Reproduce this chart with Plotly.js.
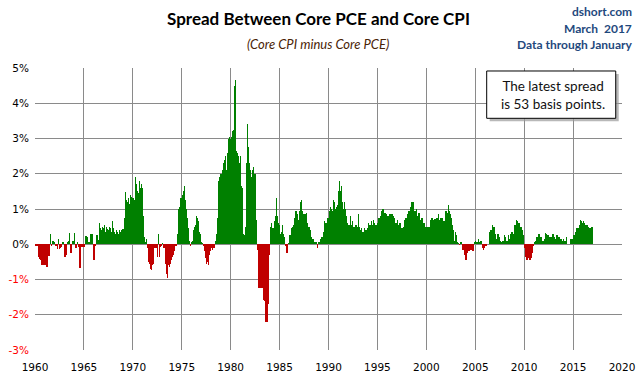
<!DOCTYPE html>
<html><head><meta charset="utf-8">
<script src="https://cdn.plot.ly/plotly-3.0.1.min.js"></script>
<style>html,body{margin:0;padding:0;background:#fff}#chart{width:638px;height:380px}</style>
</head><body><div id="chart"></div>
<script>
// Monthly spread (Core CPI minus Core PCE), %, Jan 1960 .. Jan 2017
const startYear = 1960;
const spread1960s = [
 -0.05,-0.05,0.2,-0.05,-0.35,-0.42,-0.45,-0.59,-0.59,-0.6,-0.59,-0.6,
 -0.59,-0.64,-0.64,-0.64,-0.33,-0.33,-0.05,0.3,-0.05,0.1,0.1,0.05,
 0.05,-0.05,-0.05,-0.14,0.15,-0.12,-0.14,-0.1,-0.08,0.05,0.05,0.03,
 -0.35,-0.35,-0.3,0.05,-0.22,0.1,0.32,-0.24,-0.24,0.08,0.1,0.1,
 0.32,-0.12,-0.12,0.05,0.05,-0.07,-0.67,-0.67,-0.09,-0.09,-0.09,-0.09,
 -0.09,0.24,0.3,0.24,0.22,0.05,0.05,0.05,0.3,0.28,0.3,-0.45,
 -0.45,-0.05,-0.05,0.26,0.26,0.12,0.12,0.6,0.45,0.4,0.5,0.55,
 0.45,0.55,0.35,0.5,0.42,0.58,0.4,0.5,0.45,0.35,0.55,0.67,
 0.45,0.35,0.3,0.4,0.45,0.35,0.3,0.4,0.35,0.45,0.4,0.42,
 0.42,0.75,1.47,1.35,1.25,1.2,1.3,1.15,1.25,1.4,1.35,1.3
];
const spread1970s = [
 1.3,1.4,1.25,1.9,1.7,1.5,1.45,1.75,1.8,1.6,1.7,1.6,
 1.5,0.8,0.2,0.05,0.14,-0.1,-0.3,-0.5,-0.55,-0.7,-0.72,-0.6,
 -0.6,-0.55,-0.12,-0.1,-0.1,-0.12,-0.35,0.28,-0.35,-0.08,-0.05,-0.05,
 0.03,-0.1,-0.1,-0.45,-0.55,-0.85,-0.97,-0.6,-0.65,-0.5,-0.55,-0.45,
 -0.35,-0.3,-0.25,-0.2,-0.05,-0.05,0.3,0.9,1.0,1.05,1.3,1.3,
 1.4,1.45,1.5,1.65,1.25,1.0,0.8,0.75,0.45,0.1,-0.05,0.05,
 0.05,0.1,0.4,0.5,0.55,0.6,0.8,0.75,0.65,0.35,0.3,0.1,
 0.05,0.03,-0.05,-0.2,0.05,-0.4,-0.55,-0.5,-0.6,-0.35,-0.3,-0.2,
 -0.1,-0.15,-0.1,-0.1,-0.1,0.1,0.3,0.75,1.2,1.8,1.9,2.0,
 2.0,2.1,2.2,2.3,2.4,2.5,2.1,2.35,2.6,3.0,3.05,3.0
];
const spread1980s = [
 3.78,3.05,3.2,3.25,4.5,4.65,3.25,2.65,2.6,2.5,2.3,2.4,
 2.5,1.65,1.6,0.3,0.25,0.4,0.5,2.3,3.4,2.75,2.4,2.3,
 2.1,1.9,2.1,2.2,2.2,2.0,2.0,0.7,-0.15,-1.3,-1.25,-1.25,
 -1.25,-1.25,-1.25,-1.25,-1.58,-1.6,-2.2,-2.2,-2.2,-2.2,-1.7,-0.3,
 0.5,0.85,0.6,0.45,0.45,0.65,0.8,1.05,1.3,0.8,0.6,0.55,
 0.05,0.3,0.35,0.55,0.3,0.25,0.2,-0.05,-0.25,-0.25,0.03,0.2,
 0.25,0.25,0.45,0.5,0.5,0.55,0.75,0.95,0.95,0.85,0.6,0.7,
 0.95,1.2,1.25,1.05,0.95,0.85,0.85,0.85,0.9,0.9,0.6,0.5,
 0.5,0.4,0.4,0.2,0.15,0.15,0.05,-0.03,0.05,0.05,-0.12,0.05,
 0.05,0.1,0.15,0.2,0.2,0.35,0.35,0.65,0.6,0.6,0.75,0.75
];
const spread1990s = [
 0.85,0.95,1.05,1.0,0.95,1.0,1.25,1.2,1.0,1.05,1.1,1.1,
 1.5,1.8,1.5,1.65,1.5,1.2,1.0,1.2,1.0,1.0,0.8,0.6,
 0.55,0.55,0.8,0.55,0.55,0.65,0.5,0.5,0.7,0.55,0.55,0.5,
 0.85,0.5,0.5,0.4,0.45,0.35,0.35,0.45,0.45,0.4,0.4,0.45,
 0.65,0.6,0.55,0.55,0.65,0.55,0.6,0.7,0.6,0.55,0.55,0.6,
 0.6,0.75,0.75,0.8,0.95,0.95,1.0,1.0,0.9,0.9,0.85,0.85,
 0.8,0.8,0.85,0.85,0.85,0.85,0.85,0.8,0.75,0.75,0.6,0.6,
 0.7,0.55,0.55,0.6,0.6,0.45,0.45,0.5,0.5,0.7,0.75,0.75,
 0.85,0.85,0.95,0.95,1.05,1.2,1.05,1.2,1.2,0.95,0.95,1.0,
 0.8,0.8,0.9,0.9,0.7,0.7,0.75,0.75,0.6,0.6,0.5,0.5
];
const spread2000s = [
 0.5,0.5,0.5,0.5,0.7,0.7,0.75,0.75,0.7,0.7,0.72,0.72,
 0.75,0.75,0.85,0.85,0.7,0.75,0.75,0.75,1.45,0.65,0.65,0.95,
 0.95,0.9,0.9,1.1,0.95,0.85,0.75,0.75,0.55,0.4,0.1,0.35,
 0.25,0.1,0.05,0.03,-0.03,0.05,0.05,0.05,-0.15,-0.15,-0.3,-0.4,
 -0.45,-0.45,-0.25,-0.2,-0.2,-0.2,-0.15,-0.15,-0.2,-0.2,-0.1,0.05,
 0.1,0.05,0.05,0.15,0.15,0.05,0.08,0.08,-0.1,-0.15,-0.15,-0.1,
 -0.05,-0.05,0.05,0.02,0.02,0.35,0.4,0.4,0.55,0.55,0.5,0.5,
 0.3,0.15,0.15,0.3,0.3,0.2,0.1,0.1,0.05,0.1,0.1,0.25,
 0.25,0.2,0.1,0.1,0.25,0.15,0.15,0.3,0.35,0.35,0.3,0.3,
 0.55,0.55,0.7,0.65,0.65,0.6,0.6,0.5,0.5,0.4,0.4,0.25
];
const spread2010s = [
 -0.1,-0.35,-0.45,-0.5,-0.45,-0.4,-0.45,-0.45,-0.4,-0.3,-0.25,-0.05,
 0.05,0.1,0.1,0.2,0.2,0.28,0.28,0.25,0.2,0.2,0.1,0.1,
 0.15,0.15,0.32,0.28,0.25,0.25,0.2,0.2,0.2,0.2,0.3,0.3,
 0.2,0.2,0.15,0.25,0.25,0.25,0.2,0.2,0.15,0.15,0.1,0.1,
 0.15,0.1,0.1,0.2,0.2,0.02,0.02,0.02,0.15,0.15,0.15,0.15,
 0.25,0.25,0.35,0.35,0.45,0.45,0.45,0.55,0.55,0.7,0.65,0.6,
 0.65,0.6,0.6,0.55,0.55,0.55,0.5,0.5,0.45,0.45,0.5,0.5,
 0.53
];
const xTickVals = [1960,1965,1970,1975,1980,1985,1990,1995,2000,2005,2010,2015,2020];
const xTickLabels = ['1960','1965','1970','1975','1980','1985','1990','1995','2000','2005','2010','2015','2020'];
const yTickVals = [-3,-2,-1,0,1,2,3,4,5];
const yTickLabels = ['-3%','-2%','-1%','0%','1%','2%','3%','4%','5%'];

const titleText = 'Spread Between Core PCE and Core CPI';
const subtitleText = '(Core CPI minus Core PCE)';
const sourceLines = ['dshort.com', 'March\u00a0 2017', 'Data through January'];
const noteText = 'The latest spread<br>is 53 basis points.';

const GREEN = '#008000', RED = '#C00000', GRID = '#8a8a8a';

const values = [].concat(spread1960s, spread1970s, spread1980s, spread1990s, spread2000s, spread2010s);
const xs = values.map((v, i) => startYear + (i + 0.5) / 12);
const colors = values.map(v => v >= 0 ? GREEN : RED);
const yText = yTickVals.map((v, i) => v < 0 ? '<span style="color:#ff0000">' + yTickLabels[i] + '</span>' : yTickLabels[i]);

const trace = {
  type: 'bar', x: xs, y: values, width: 1/12,
  marker: {color: colors, line: {width: 0}},
  hoverinfo: 'skip'
};

const layout = {
  width: 638, height: 380,
  margin: {l: 35, r: 16, t: 68, b: 30, pad: 0},
  paper_bgcolor: '#ffffff', plot_bgcolor: '#ffffff',
  showlegend: false, bargap: 0,
  font: {family: 'DejaVu Sans, sans-serif', size: 10.5, color: '#000'},
  xaxis: {
    range: [1960, 2020], tickvals: xTickVals, ticktext: xTickLabels,
    showgrid: true, gridcolor: GRID, gridwidth: 1, zeroline: false,
    showline: false, ticks: '', ticklabelstandoff: 9,
    tickfont: {family: 'DejaVu Sans, sans-serif', size: 10.5, color: '#000'}
  },
  yaxis: {
    range: [-3, 5], tickvals: yTickVals, ticktext: yText,
    showgrid: true, gridcolor: GRID, gridwidth: 1,
    zeroline: true, zerolinecolor: GRID, zerolinewidth: 1,
    showline: false, ticks: '', ticklabelstandoff: 5,
    tickfont: {family: 'DejaVu Sans, sans-serif', size: 10.5, color: '#000'}
  },
  shapes: [
    {type: 'rect', xref: 'paper', yref: 'paper', x0: 0.7746, x1: 0.9944, y0: 0.8110, y1: 0.9787,
     fillcolor: '#9a9a9a', line: {width: 0}, layer: 'above', opacity: 0.7},
    {type: 'rect', xref: 'paper', yref: 'paper', x0: 0.7695, x1: 0.9893, y0: 0.8216, y1: 0.9894,
     fillcolor: '#ffffff', line: {color: '#000', width: 1}, layer: 'above'}
  ],
  annotations: [
    {xref: 'paper', yref: 'paper', x: 0.483, y: 1.174, xanchor: 'center', yanchor: 'middle',
     text: '<b>' + titleText + '</b>', showarrow: false,
     font: {family: 'Lato, sans-serif', size: 17, color: '#000'}},
    {xref: 'paper', yref: 'paper', x: 0.482, y: 1.085, xanchor: 'center', yanchor: 'middle',
     text: '<i>' + subtitleText + '</i>', showarrow: false,
     font: {family: 'Lato, sans-serif', size: 13, color: '#4a2406'}},
    {xref: 'paper', yref: 'paper', x: 1.0204, y: 1.1986, xanchor: 'right', yanchor: 'middle',
     text: '<b>' + sourceLines[0] + '</b>', showarrow: false,
     font: {family: 'Lato, sans-serif', size: 12, color: '#1F497D'}},
    {xref: 'paper', yref: 'paper', x: 1.0204, y: 1.1418, xanchor: 'right', yanchor: 'middle',
     text: '<b>' + sourceLines[1] + '</b>', showarrow: false,
     font: {family: 'Lato, sans-serif', size: 12, color: '#1F497D'}},
    {xref: 'paper', yref: 'paper', x: 1.0204, y: 1.0816, xanchor: 'right', yanchor: 'middle',
     text: '<b>' + sourceLines[2] + '</b>', showarrow: false,
     font: {family: 'Lato, sans-serif', size: 12, color: '#1F497D'}},
    {xref: 'paper', yref: 'paper', x: 0.882, y: 0.906, xanchor: 'center', yanchor: 'middle',
     text: noteText, showarrow: false, align: 'center',
     font: {family: 'Lato, sans-serif', size: 13.5, color: '#111'}}
  ]
};

Plotly.newPlot('chart', [trace], layout, {staticPlot: true, displayModeBar: false});
</script>
</body></html>
